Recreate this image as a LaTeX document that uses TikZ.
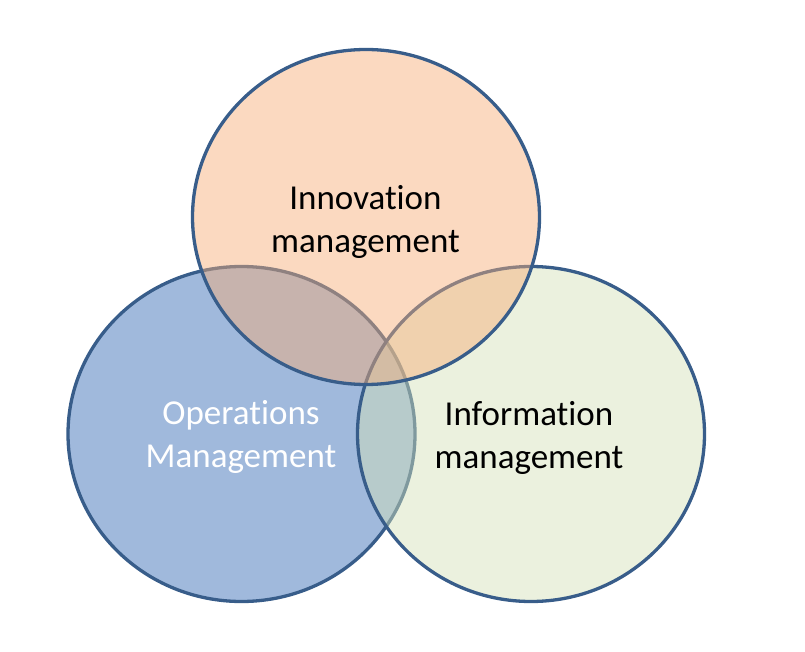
\documentclass[tikz,border=0pt]{standalone}
\usepackage{fontspec}
\setmainfont{Carlito}[Ligatures=NoCommon]
\definecolor{rim}{RGB}{56,93,138}
\definecolor{opsblue}{RGB}{160,185,220}
\definecolor{innopeach}{RGB}{246,172,118}
\definecolor{infogreen}{RGB}{212,225,183}
\begin{document}
\begin{tikzpicture}[x=1pt, y=1pt, line width=3.3pt,
        venn/.style={draw=rim},
        areatext/.style={align=center, font=\fontsize{35}{43}\selectfont}]
            \useasboundingbox (0, 0) rectangle (805, 651);
            % the three sets, bottom to top
            \draw[venn, fill=opsblue] (241.5, 217) ellipse [x radius=173.5pt, y radius=167.5pt];
            \draw[venn, fill=infogreen, fill opacity=0.46] (531, 217) ellipse [x radius=173.5pt, y radius=167.5pt];
            \draw[venn, fill=innopeach, fill opacity=0.46] (366, 434) ellipse [x radius=173.5pt, y radius=167.5pt];
            \node[areatext] (innov) at (365.5, 429) {Innovation\\management};
            \node[areatext, text=white] (ops) at (241, 214) {Operations\\Management};
            \node[areatext] (info) at (529, 213) {Information\\management};
        \end{tikzpicture}
\end{document}
